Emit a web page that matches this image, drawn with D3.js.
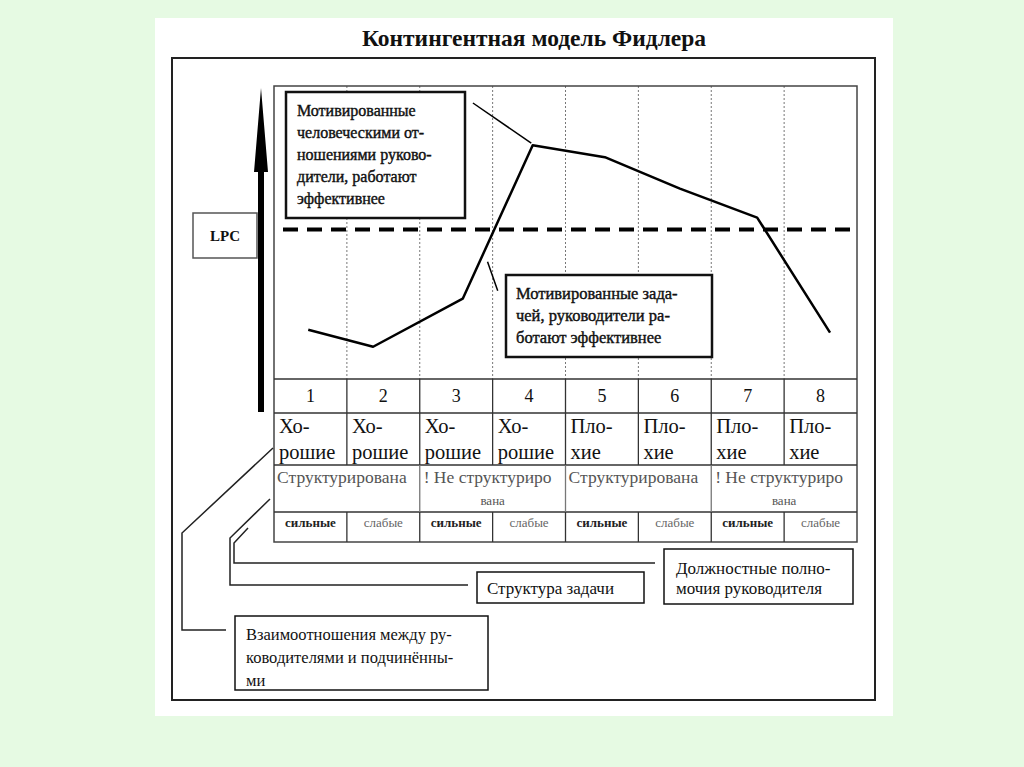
<!DOCTYPE html>
<html>
<head>
<meta charset="utf-8">
<script src="https://cdn.jsdelivr.net/npm/d3@7"></script>
<style>
  body { margin: 0; background: #e6fae3; }
  svg { display: block; }
  text { font-family: "Liberation Serif", "Times New Roman", serif; fill: #111; }
</style>
</head>
<body>
<svg id="chart" width="1024" height="767"></svg>
<script>
// ---- data ----
const title = "Контингентная модель Фидлера";
const yLabel = "LPC";
const situations = ["1", "2", "3", "4", "5", "6", "7", "8"];
const relationsRow = [
  ["Хо-", "рошие"], ["Хо-", "рошие"], ["Хо-", "рошие"], ["Хо-", "рошие"],
  ["Пло-", "хие"], ["Пло-", "хие"], ["Пло-", "хие"], ["Пло-", "хие"]
];
const structureRow = [
  { lines: ["Структурирована"], span: 2 },
  { lines: ["! Не структуриро", "вана"], span: 2 },
  { lines: ["Структурирована"], span: 2 },
  { lines: ["! Не структуриро", "вана"], span: 2 }
];
const powerRow = ["сильные", "слабые", "сильные", "слабые", "сильные", "слабые", "сильные", "слабые"];

// LPC curve: position along the situation axis (in column units) and value 0..100
const lpcPos = [0.47, 1.36, 2.59, 3.55, 4.54, 5.57, 6.63, 7.63];
const lpcValues = [16.8, 11.0, 27.4, 79.8, 75.7, 65.0, 55.1, 15.8];
const lpcThreshold = 51;

const noteRelations = ["Мотивированные", "человеческими от-", "ношениями руково-", "дители, работают", "эффективнее"];
const noteTask = ["Мотивированные зада-", "чей, руководители ра-", "ботают эффективнее"];
const footRelations = ["Взаимоотношения между ру-", "ководителями и подчинённы-", "ми"];
const footTask = ["Структура задачи"];
const footPower = ["Должностные полно-", "мочия руководителя"];

// ---- layout ----
const svg = d3.select("#chart");
const plot = { left: 274, right: 857, top: 86, bottom: 379 };
const rowY = [379, 413, 465, 512, 542];

const x = d3.scaleLinear().domain([0, situations.length]).range([plot.left, plot.right]);
const y = d3.scaleLinear().domain([0, 100]).range([plot.bottom, plot.top]);

// white sheet
svg.append("rect").attr("x", 155).attr("y", 18).attr("width", 738).attr("height", 698).attr("fill", "#fff");

svg.append("text")
  .attr("x", 534).attr("y", 46)
  .attr("text-anchor", "middle")
  .style("font-size", "23.5px").style("font-weight", "bold")
  .text(title);

// outer frame
svg.append("rect")
  .attr("x", 172).attr("y", 58).attr("width", 703).attr("height", 642)
  .attr("fill", "none").attr("stroke", "#222").attr("stroke-width", 2);

// dotted column guides in the plot
svg.append("g").selectAll("line")
  .data(d3.range(1, situations.length))
  .join("line")
  .attr("x1", d => x(d)).attr("x2", d => x(d))
  .attr("y1", plot.top).attr("y2", plot.bottom)
  .attr("stroke", "#777").attr("stroke-width", 1).attr("stroke-dasharray", "2,2");

// plot + table frame
svg.append("rect")
  .attr("x", plot.left).attr("y", plot.top)
  .attr("width", plot.right - plot.left).attr("height", rowY[4] - plot.top)
  .attr("fill", "none").attr("stroke", "#444").attr("stroke-width", 1.5);

// table horizontal rules
svg.append("g").selectAll("line")
  .data(rowY.slice(0, 4))
  .join("line")
  .attr("x1", plot.left).attr("x2", plot.right)
  .attr("y1", d => d).attr("y2", d => d)
  .attr("stroke", "#333").attr("stroke-width", 1.5);

// table vertical rules: rows 0,1,3 per situation, row 2 per pair
const cellRules = [];
[0, 1, 3].forEach(r => d3.range(1, situations.length).forEach(i => cellRules.push({ i, r })));
[2, 4, 6].forEach(i => cellRules.push({ i, r: 2 }));
svg.append("g").selectAll("line")
  .data(cellRules)
  .join("line")
  .attr("x1", d => x(d.i)).attr("x2", d => x(d.i))
  .attr("y1", d => rowY[d.r]).attr("y2", d => rowY[d.r + 1])
  .attr("stroke", d => d.r === 2 ? "#777" : "#333").attr("stroke-width", 1.3);

// row 1: numbers
svg.append("g").selectAll("text")
  .data(situations)
  .join("text")
  .attr("x", (d, i) => x(i + 0.5)).attr("y", rowY[0] + 23)
  .attr("text-anchor", "middle")
  .style("font-size", "18px")
  .text(d => d);

// row 2: relations
const rel = svg.append("g").selectAll("text")
  .data(relationsRow)
  .join("text")
  .style("font-size", "20.5px");
rel.selectAll("tspan")
  .data((d, i) => d.map(t => ({ t, i })))
  .join("tspan")
  .attr("x", d => x(d.i) + 5)
  .attr("y", (d, j) => rowY[1] + 20 + j * 26)
  .text(d => d.t);

// row 3: task structure
let start = 0;
const structCells = structureRow.map(d => { const c = { ...d, start }; start += d.span; return c; });
const st = svg.append("g").selectAll("text")
  .data(structCells)
  .join("text")
  .attr("text-anchor", "middle")
  .style("fill", "#555");
st.selectAll("tspan")
  .data(d => d.lines.map((t, j) => ({ t, j, c: d })))
  .join("tspan")
  .attr("x", d => x(d.c.start + d.c.span / 2) - (d.j === 0 ? 5 : 0))
  .attr("y", d => rowY[2] + 18 + d.j * 22)
  .style("font-size", d => d.j === 1 ? "13px" : "17.5px")
  .text(d => d.t);

// row 4: leader power
svg.append("g").selectAll("text")
  .data(powerRow)
  .join("text")
  .attr("x", (d, i) => x(i + 0.5)).attr("y", rowY[3] + 15)
  .attr("text-anchor", "middle")
  .style("font-size", "13px")
  .style("font-weight", (d, i) => i % 2 === 0 ? "bold" : "normal")
  .style("fill", (d, i) => i % 2 === 0 ? "#222" : "#666")
  .text(d => d);

// LPC axis arrow
svg.append("path")
  .attr("d", "M258,412 L258,172 L254,172 L261,88 L268,172 L264,172 L264,412 Z")
  .attr("fill", "#000");

svg.append("rect")
  .attr("x", 193).attr("y", 213).attr("width", 64).attr("height", 45)
  .attr("fill", "#fff").attr("stroke", "#555").attr("stroke-width", 1.5);
svg.append("text")
  .attr("x", 225).attr("y", 241)
  .attr("text-anchor", "middle")
  .style("font-size", "15px").style("font-weight", "bold")
  .text(yLabel);

// threshold dashed line
svg.append("line")
  .attr("x1", plot.left + 9).attr("x2", plot.right)
  .attr("y1", y(lpcThreshold)).attr("y2", y(lpcThreshold))
  .attr("stroke", "#000").attr("stroke-width", 4).attr("stroke-dasharray", "15,9");

// LPC curve
const lpcPoints = lpcPos.map((p, i) => [p, lpcValues[i]]);
svg.append("path")
  .datum(lpcPoints)
  .attr("d", d3.line().x(d => x(d[0])).y(d => y(d[1])))
  .attr("fill", "none").attr("stroke", "#000").attr("stroke-width", 2.5)
  .attr("stroke-linejoin", "round");

// annotation pointers (column units / value units)
const pointers = [
  [[2.73, 94.2], [3.53, 80.5]],
  [[2.93, 40.0], [3.07, 30.1]]
];
svg.append("g").selectAll("line")
  .data(pointers)
  .join("line")
  .attr("x1", d => x(d[0][0])).attr("y1", d => y(d[0][1]))
  .attr("x2", d => x(d[1][0])).attr("y2", d => y(d[1][1]))
  .attr("stroke", "#000").attr("stroke-width", 1.5);

// text boxes
function noteBox(bx, by, bw, bh, lines, tx, ty, lh, size, sw, heavy) {
  svg.append("rect")
    .attr("x", bx).attr("y", by).attr("width", bw).attr("height", bh)
    .attr("fill", "#fff").attr("stroke", "#111").attr("stroke-width", sw);
  const t = svg.append("text")
    .style("font-size", size + "px")
    .style("stroke", heavy ? "#111" : "none")
    .style("stroke-width", heavy ? 0.4 : 0);
  t.selectAll("tspan")
    .data(lines)
    .join("tspan")
    .attr("x", tx).attr("y", (d, i) => ty + i * lh)
    .text(d => d);
}

noteBox(286, 92, 179, 126, noteRelations, 297, 116, 22, 16, 2.5, true);
noteBox(506, 275, 206, 82, noteTask, 516, 299, 22, 16.5, 2.5, true);
noteBox(235, 616, 253, 74, footRelations, 246, 640, 23, 16.5, 1.5, false);
noteBox(477, 572, 167, 31, footTask, 487, 594, 20, 17, 1.5, false);
noteBox(664, 549, 189, 55, footPower, 676, 574, 20, 17, 1.5, false);

// connectors from the table rows to the footnote boxes
const connectors = [
  [[273, 448], [182, 533], [182, 630], [226, 630]],
  [[270, 499], [230, 538], [230, 585], [468, 585]],
  [[248, 528], [234, 543], [234, 563], [655, 563]]
];
svg.append("g").selectAll("path")
  .data(connectors)
  .join("path")
  .attr("d", d3.line())
  .attr("fill", "none").attr("stroke", "#222").attr("stroke-width", 1.5);
</script>
</body>
</html>
